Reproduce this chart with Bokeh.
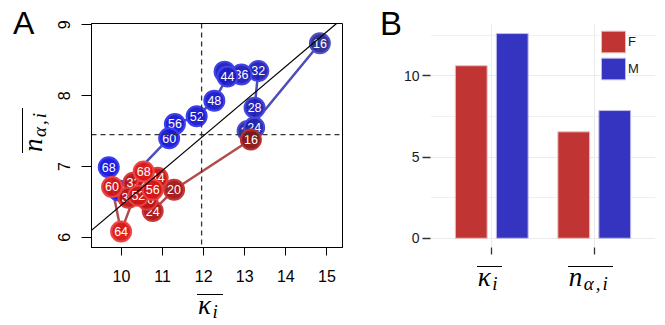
import math
from bokeh.plotting import figure
from bokeh.models import (Range1d, FixedTicker, Span, Slope, Div,
                          ColumnDataSource, CDSView, IndexFilter, Legend, LegendItem,
                          FactorRange)
from bokeh.transform import dodge
from bokeh.layouts import row, column
from bokeh.core.properties import value
from bokeh.embed import file_html
from bokeh.resources import INLINE

# ---------------- data ----------------
ages = [16, 20, 24, 28, 32, 36, 40, 44, 48, 52, 56, 60, 64, 68]
kappa_M = [14.83, 13.07, 13.23, 13.24, 13.33, 12.92, 12.51, 12.58, 12.26, 11.83, 11.30, 11.16, 9.93, 9.69]
n_M     = [8.74, 7.50, 7.55, 7.83, 8.35, 8.30, 8.34, 8.27, 7.93, 7.71, 7.60, 7.40, 6.66, 6.99]
kappa_F = [13.15, 11.28, 10.76, 10.83, 10.29, 10.17, 10.63, 10.88, 10.61, 10.41, 10.76, 9.77, 9.99, 10.54]
n_F     = [7.38, 6.67, 6.37, 6.755, 6.77, 6.557, 6.529, 6.84, 6.713, 6.586, 6.67, 6.71, 6.08, 6.93]
kappa_mean = 11.95
n_mean = 7.45
fit_slope = 0.49
fit_intercept = 1.555
x_ticks_A = [10, 11, 12, 13, 14, 15]
y_ticks_A = [6, 7, 8, 9]

bar_cats = ["kappa", "n"]
bar_F = [10.62, 6.55]
bar_M = [12.60, 7.86]
y_ticks_B = [0, 5, 10]
y_minor_B = [2.5, 7.5, 12.5]

SANS = "Liberation Sans"
SERIF = "Liberation Serif"

H = 325
S1_W = 50                       # left strip (letter A, y label)
A_X0, A_W, A_H = 50, 318, 292   # panel A figure
S4_X0, S4_W = 368, 32           # strip holding letter B
B_X0, B_W, B_H = 400, 265, 262  # panel B figure
A_FRAME = dict(left=91, right=342, top=23, bottom=247)
B_FRAME = dict(left=427, right=655, top=23, bottom=247)

# ---------------- html text helpers ----------------
MAIN_FS, SUB_FS, LINE_H, SUB_DROP = 27, 19, 20, 4


def math_html(base, sub):
    return ("<span style=\"display:inline-block;border-top:1.2px solid #000;"
            f"line-height:{LINE_H}px;font-family:'{SERIF}';font-style:italic;"
            f"font-size:{MAIN_FS}px;color:#000;padding:0 3px 0 1px;white-space:nowrap;\">"
            f"{base}<span style=\"font-size:{SUB_FS}px;position:relative;top:{SUB_DROP}px;"
            f"margin-left:1.5px;letter-spacing:2px;\">{sub}</span></span>")


def placed(left, top, inner, rotate=False):
    rot = "transform-origin:0 0;transform:rotate(-90deg);" if rotate else ""
    return (f"<div style=\"position:absolute;left:{left}px;top:{top}px;font-size:0;"
            f"line-height:0;white-space:nowrap;{rot}\">{inner}</div>")


def letter(left, baseline, ch, fs):
    top = baseline - 0.8465 * fs
    return (f"<div style=\"position:absolute;left:{left}px;top:{top:.1f}px;"
            f"font-family:'{SANS}';font-size:{fs}px;line-height:{fs}px;color:#000;\">{ch}</div>")


def strip_div(w, h, parts):
    html = (f"<div style=\"position:relative;width:{w}px;height:{h}px;overflow:visible;\">"
            + "".join(parts) + "</div>")
    return Div(text=html, width=w, height=h, margin=(0, 0, 0, 0))


# ---------------- panel A ----------------
pA = figure(width=A_W, height=A_H, output_backend="svg", toolbar_location=None,
            x_range=Range1d(9.27, 15.38), y_range=Range1d(5.855, 9.02),
            min_border_left=A_FRAME["left"] - A_X0,
            min_border_right=A_X0 + A_W - A_FRAME["right"],
            min_border_top=A_FRAME["top"], min_border_bottom=A_H - A_FRAME["bottom"])
pA.outline_line_color = "black"
pA.outline_line_width = 1
pA.xgrid.visible = False
pA.ygrid.visible = False
pA.background_fill_color = "white"
pA.border_fill_color = "white"

for ax in (pA.xaxis[0], pA.yaxis[0]):
    ax.axis_line_color = "black"
    ax.major_tick_line_color = "black"
    ax.major_tick_in = 0
    ax.minor_tick_line_color = None
    ax.major_label_text_font = SANS
    ax.major_label_text_font_size = "16px"
    ax.major_label_text_color = "black"
pA.xaxis.ticker = FixedTicker(ticks=x_ticks_A)
pA.yaxis.ticker = FixedTicker(ticks=y_ticks_A)
pA.xaxis.major_tick_out = 8
pA.yaxis.major_tick_out = 10
pA.xaxis.major_label_standoff = 14
pA.yaxis.major_label_standoff = 11
pA.yaxis.major_label_orientation = "parallel"

pA.add_layout(Span(location=kappa_mean, dimension="height", line_color="#333333",
                   line_dash="5 4", line_width=1.3))
pA.add_layout(Span(location=n_mean, dimension="width", line_color="#333333",
                   line_dash="5 4", line_width=1.3))
pA.add_layout(Slope(gradient=fit_slope, y_intercept=fit_intercept, line_color="black", line_width=1.2))


def mix(c0, c1, t):
    return "#%02x%02x%02x" % tuple(int(round(a + (b - a) * t)) for a, b in zip(c0, c1))


def series_colors(dark, bright, dark_l, bright_l):
    fills, lines = [], []
    for a in ages:
        t = ((a - ages[0]) / (ages[-1] - ages[0])) ** 0.5
        fills.append(mix(dark, bright, t))
        lines.append(mix(dark_l, bright_l, t))
    return fills, lines


fM, lM = series_colors((0x2a, 0x2a, 0x8c), (0x14, 0x14, 0xdc), (0x50, 0x50, 0xc8), (0x3c, 0x3c, 0xf0))
fF, lF = series_colors((0x8a, 0x14, 0x14), (0xdc, 0x16, 0x16), (0xb8, 0x30, 0x30), (0xf0, 0x45, 0x45))

srcM = ColumnDataSource(dict(x=kappa_M, y=n_M, lab=[str(a) for a in ages], fc=fM, lc=lM))
srcF = ColumnDataSource(dict(x=kappa_F, y=n_F, lab=[str(a) for a in ages], fc=fF, lc=lF))

pA.line("x", "y", source=srcM, line_color="#3b3bb0", line_width=2.5, line_alpha=0.9)
pA.line("x", "y", source=srcF, line_color="#a83838", line_width=2.5, line_alpha=0.9)

for src in (srcM, srcF):
    for i in range(len(ages)):
        view = CDSView(filter=IndexFilter([i]))
        pA.scatter("x", "y", source=src, view=view, size=20, fill_color="fc",
                   line_color="lc", line_width=2, fill_alpha=0.95)
        pA.text("x", "y", text="lab", source=src, view=view, text_align="center",
                text_baseline="middle", text_color="white", text_font=value(SANS),
                text_font_size="12.5px")

# left strip: letter A and rotated y label
s1 = strip_div(S1_W, H, [
    letter(13, 34.5, "A", 32),
    placed(21.5, 153.3, math_html("n", "α,i"), rotate=True),
])
# strip below panel A: x label
s2 = strip_div(A_W, H - A_H, [
    placed(197 - A_X0, 293.5 - A_H, math_html("κ", "i")),
])

# ---------------- panel B ----------------
pB = figure(width=B_W, height=B_H, output_backend="svg", toolbar_location=None,
            x_range=FactorRange(factors=bar_cats, range_padding=0.0975,
                                range_padding_units="absolute"),
            y_range=Range1d(-0.57, 13.22),
            min_border_left=B_FRAME["left"] - B_X0,
            min_border_right=B_X0 + B_W - B_FRAME["right"],
            min_border_top=B_FRAME["top"], min_border_bottom=B_H - B_FRAME["bottom"])
pB.outline_line_color = None
pB.background_fill_color = "white"
pB.border_fill_color = "white"

srcB = ColumnDataSource(dict(cat=bar_cats, F=bar_F, M=bar_M))
rF = pB.vbar(x=dodge("cat", -0.2, range=pB.x_range), top="F", width=0.31, bottom=0,
             source=srcB, fill_color="#c03434", line_color="#ecbcbc", line_width=1)
rM = pB.vbar(x=dodge("cat", 0.2, range=pB.x_range), top="M", width=0.31, bottom=0,
             source=srcB, fill_color="#3434c0", line_color="#bcbcec", line_width=1)

pB.yaxis.ticker = FixedTicker(ticks=y_ticks_B, minor_ticks=y_minor_B)
pB.ygrid.grid_line_color = "#ebebeb"
pB.ygrid.minor_grid_line_color = "#f0f0f0"
pB.xgrid.grid_line_color = "#ebebeb"
for ax in (pB.xaxis[0], pB.yaxis[0]):
    ax.axis_line_color = None
    ax.major_tick_line_color = "#333333"
    ax.major_tick_line_width = 1.3
    ax.major_tick_in = 0
    ax.minor_tick_line_color = None
    ax.major_label_text_font = SANS
    ax.major_label_text_font_size = "14px"
    ax.major_label_text_color = "#1a1a1a"
pB.yaxis.major_tick_out = 8
pB.yaxis.major_label_standoff = 3
pB.xaxis.major_tick_out = 7
pB.xaxis.major_label_standoff = 0
pB.xaxis.major_label_text_font_size = "1px"
pB.xaxis.major_label_text_color = None

legend = Legend(items=[LegendItem(label="F", renderers=[rF]),
                       LegendItem(label="M", renderers=[rM])],
                location=(168, 165), glyph_width=30, glyph_height=27, spacing=0,
                padding=0, margin=0, label_standoff=0, label_text_font=SANS,
                label_text_font_size="13px", label_text_color="#1a1a1a",
                label_height=20, border_line_color=None, background_fill_alpha=0)
pB.add_layout(legend)

s4 = strip_div(S4_W, H, [letter(380 - S4_X0, 35, "B", 33)])
s3 = strip_div(B_W, H - B_H, [
    placed(476.7 - B_X0, 265.5 - B_H, math_html("κ", "i")),
    placed(567.7 - B_X0, 265.5 - B_H, math_html("n", "α,i")),
])

layout = row(s1, column(pA, s2), s4, column(pB, s3))
open("out.html", "w").write(file_html(layout, INLINE))
